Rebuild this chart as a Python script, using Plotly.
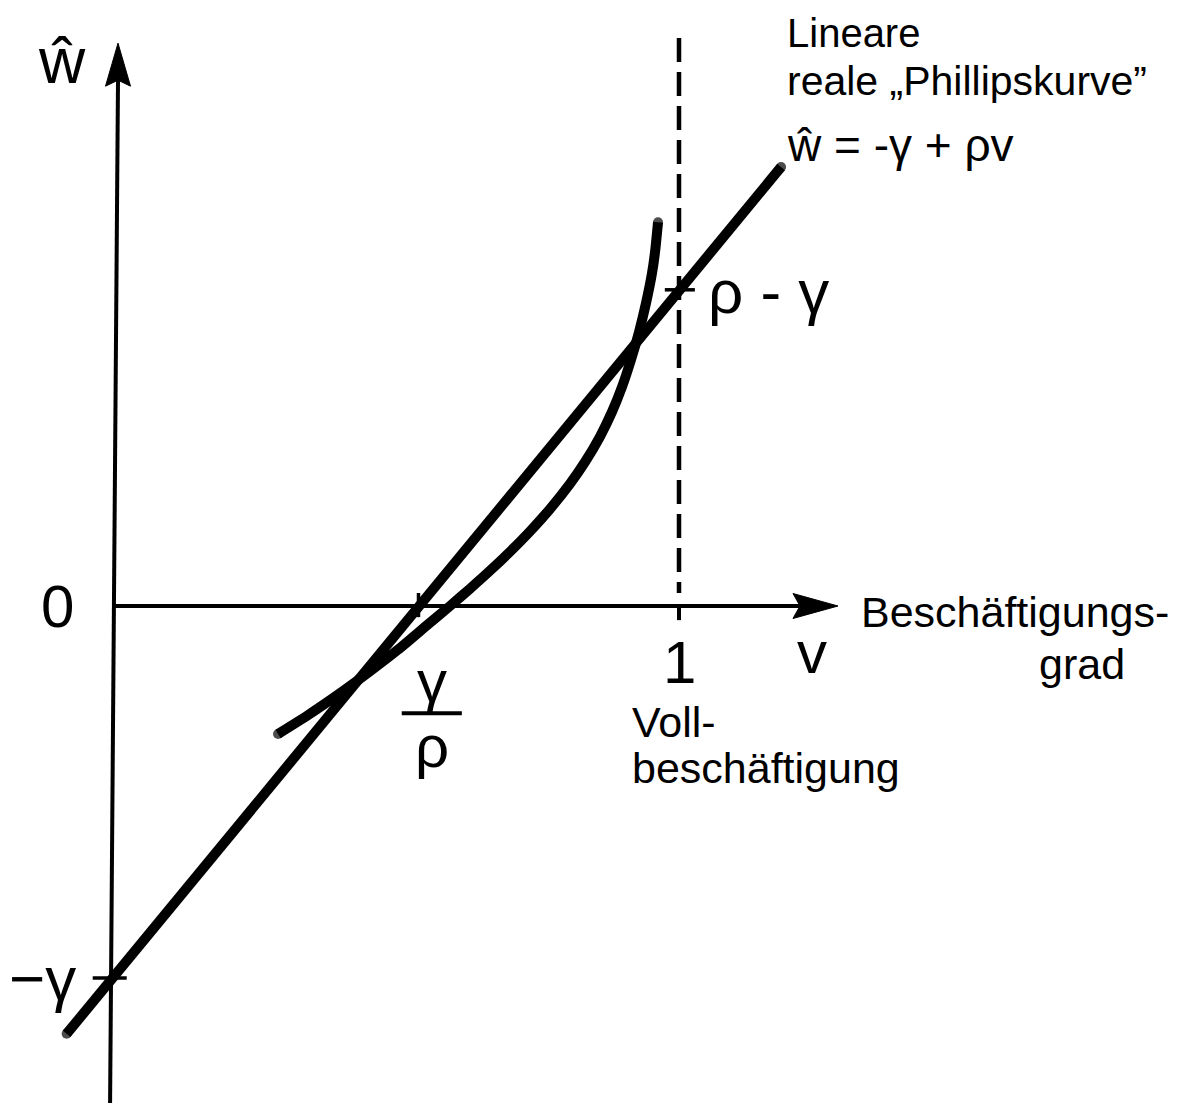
import plotly.graph_objects as go

# ---- data (model units: v = Beschäftigungsgrad, w = Lohnwachstum; gamma scaled to 1) ----
gamma = 1.0
rho = 1.85

line_v = [-0.08, 1.18]           # linear real Phillips curve  w = -gamma + rho*v
line_w = [-1.15, 1.18]

curve_v = [0.2928, 0.3457, 0.3986, 0.4515, 0.5044, 0.5573, 0.5961, 0.6314, 0.6667,
           0.7019, 0.7372, 0.7725, 0.8078, 0.8342, 0.8607, 0.8818, 0.8995, 0.9153,
           0.9295, 0.9418, 0.9524, 0.9577, 0.9630]
curve_w = [-0.3441, -0.2933, -0.2384, -0.1796, -0.1175, -0.0495, 0.0000, 0.0465, 0.0949,
           0.1460, 0.2008, 0.2610, 0.3288, 0.3871, 0.4556, 0.5218, 0.5890, 0.6616,
           0.7368, 0.8140, 0.8946, 0.9511, 1.0317]

full_employment_v = 1.0
dash_w = [1.527, 0.035]

x_axis_v = [0.0, 1.213]
y_axis_v = [-0.0035, 0.0106]
y_axis_w = [-1.36, 1.415]

# ---- layout constants ----
XR = [-0.18342, 1.92240]
YR = [-1.35753, 1.60753]
SX = 567.0   # px per v unit
SY = 372.0   # px per w unit
INK = "#000000"
FONT = "Liberation Sans, Arial, sans-serif"

fig = go.Figure()

def seg(xs, ys, width, dash=None):
    fig.add_trace(go.Scatter(x=xs, y=ys, mode="lines", hoverinfo="skip",
                             line=dict(color=INK, width=width, dash=dash)))

def poly(xs, ys):
    fig.add_trace(go.Scatter(x=xs, y=ys, mode="lines", fill="toself",
                             fillcolor=INK, hoverinfo="skip",
                             line=dict(color=INK, width=1)))

# axes
seg(x_axis_v, [0, 0], 4)
seg(y_axis_v, [y_axis_w[0], y_axis_w[1]], 4)

# arrow heads
tipx, halfx, lenx = 1.2804, 12.5 / SY, 45 / SX
poly([tipx, tipx - lenx, tipx - lenx + 7 / SX, tipx - lenx, tipx],
     [0, halfx, 0, -halfx, 0])
tv, tw = y_axis_v[1], 1.513
halfy, leny = 12.5 / SX, 43 / SY
poly([tv, tv - halfy, tv, tv + halfy, tv],
     [tw, tw - leny, tw - leny + 6 / SY, tw - leny, tw])

# full employment dashed line + tick below axis
seg([full_employment_v, full_employment_v], dash_w, 4.5, dash="24px,10px")
seg([full_employment_v, full_employment_v], [0, -0.038], 4)

# ticks
seg([gamma / rho, gamma / rho], [-0.03, 0.035], 3.5)
seg([-0.034, 0.026], [-gamma, -gamma], 3.5)
seg([0.975, 1.028], [rho - gamma, rho - gamma], 3.5)

# fraction bar gamma/rho
seg([0.511, 0.617], [-0.288, -0.288], 4)

# curves (round end caps via end markers)
def caps(n):
    return [10] + [0] * (n - 2) + [10]

fig.add_trace(go.Scatter(x=line_v, y=line_w, mode="lines+markers", hoverinfo="skip",
                         line=dict(color=INK, width=10),
                         marker=dict(color=INK, size=caps(len(line_v)), line=dict(width=0))))
fig.add_trace(go.Scatter(x=curve_v, y=curve_w, mode="lines+markers", hoverinfo="skip",
                         line=dict(color=INK, width=10, shape="spline", smoothing=0.6),
                         marker=dict(color=INK, size=caps(len(curve_v)), line=dict(width=0))))

def label(text, x, y, size, xanchor="left", yanchor="middle"):
    fig.add_annotation(x=x, y=y, text=text, showarrow=False, xanchor=xanchor,
                       yanchor=yanchor, font=dict(family=FONT, size=size, color=INK))

label("ŵ", -0.088, 1.465, 64, xanchor="center")
label("Lineare", 1.187, 1.540, 40)
label("reale „Phillipskurve”", 1.187, 1.411, 41)
label("ŵ = -γ + ρv", 1.187, 1.239, 46)
label("ρ - γ", 1.048, 0.845, 62)
label("0", -0.097, 0.0, 60, xanchor="center")
label("−γ", -0.123, -1.0, 62, xanchor="center")
label("γ", 0.564, -0.204, 60, xanchor="center")
label("ρ", 0.564, -0.379, 60, xanchor="center")
label("1", 1.0, -0.151, 60, xanchor="center")
label("v", 1.235, -0.124, 60, xanchor="center")
label("Beschäftigungs-", 1.318, -0.015, 43)
label("grad", 1.79, -0.155, 43, xanchor="right")
label("Voll-", 0.914, -0.312, 43)
label("beschäftigung", 0.914, -0.435, 43)

fig.update_layout(
    width=1194, height=1103,
    margin=dict(l=0, r=0, t=0, b=0),
    paper_bgcolor="white", plot_bgcolor="white",
    showlegend=False,
    xaxis=dict(range=XR, visible=False, fixedrange=True),
    yaxis=dict(range=YR, visible=False, fixedrange=True),
)

fig.write_html("out.html")
